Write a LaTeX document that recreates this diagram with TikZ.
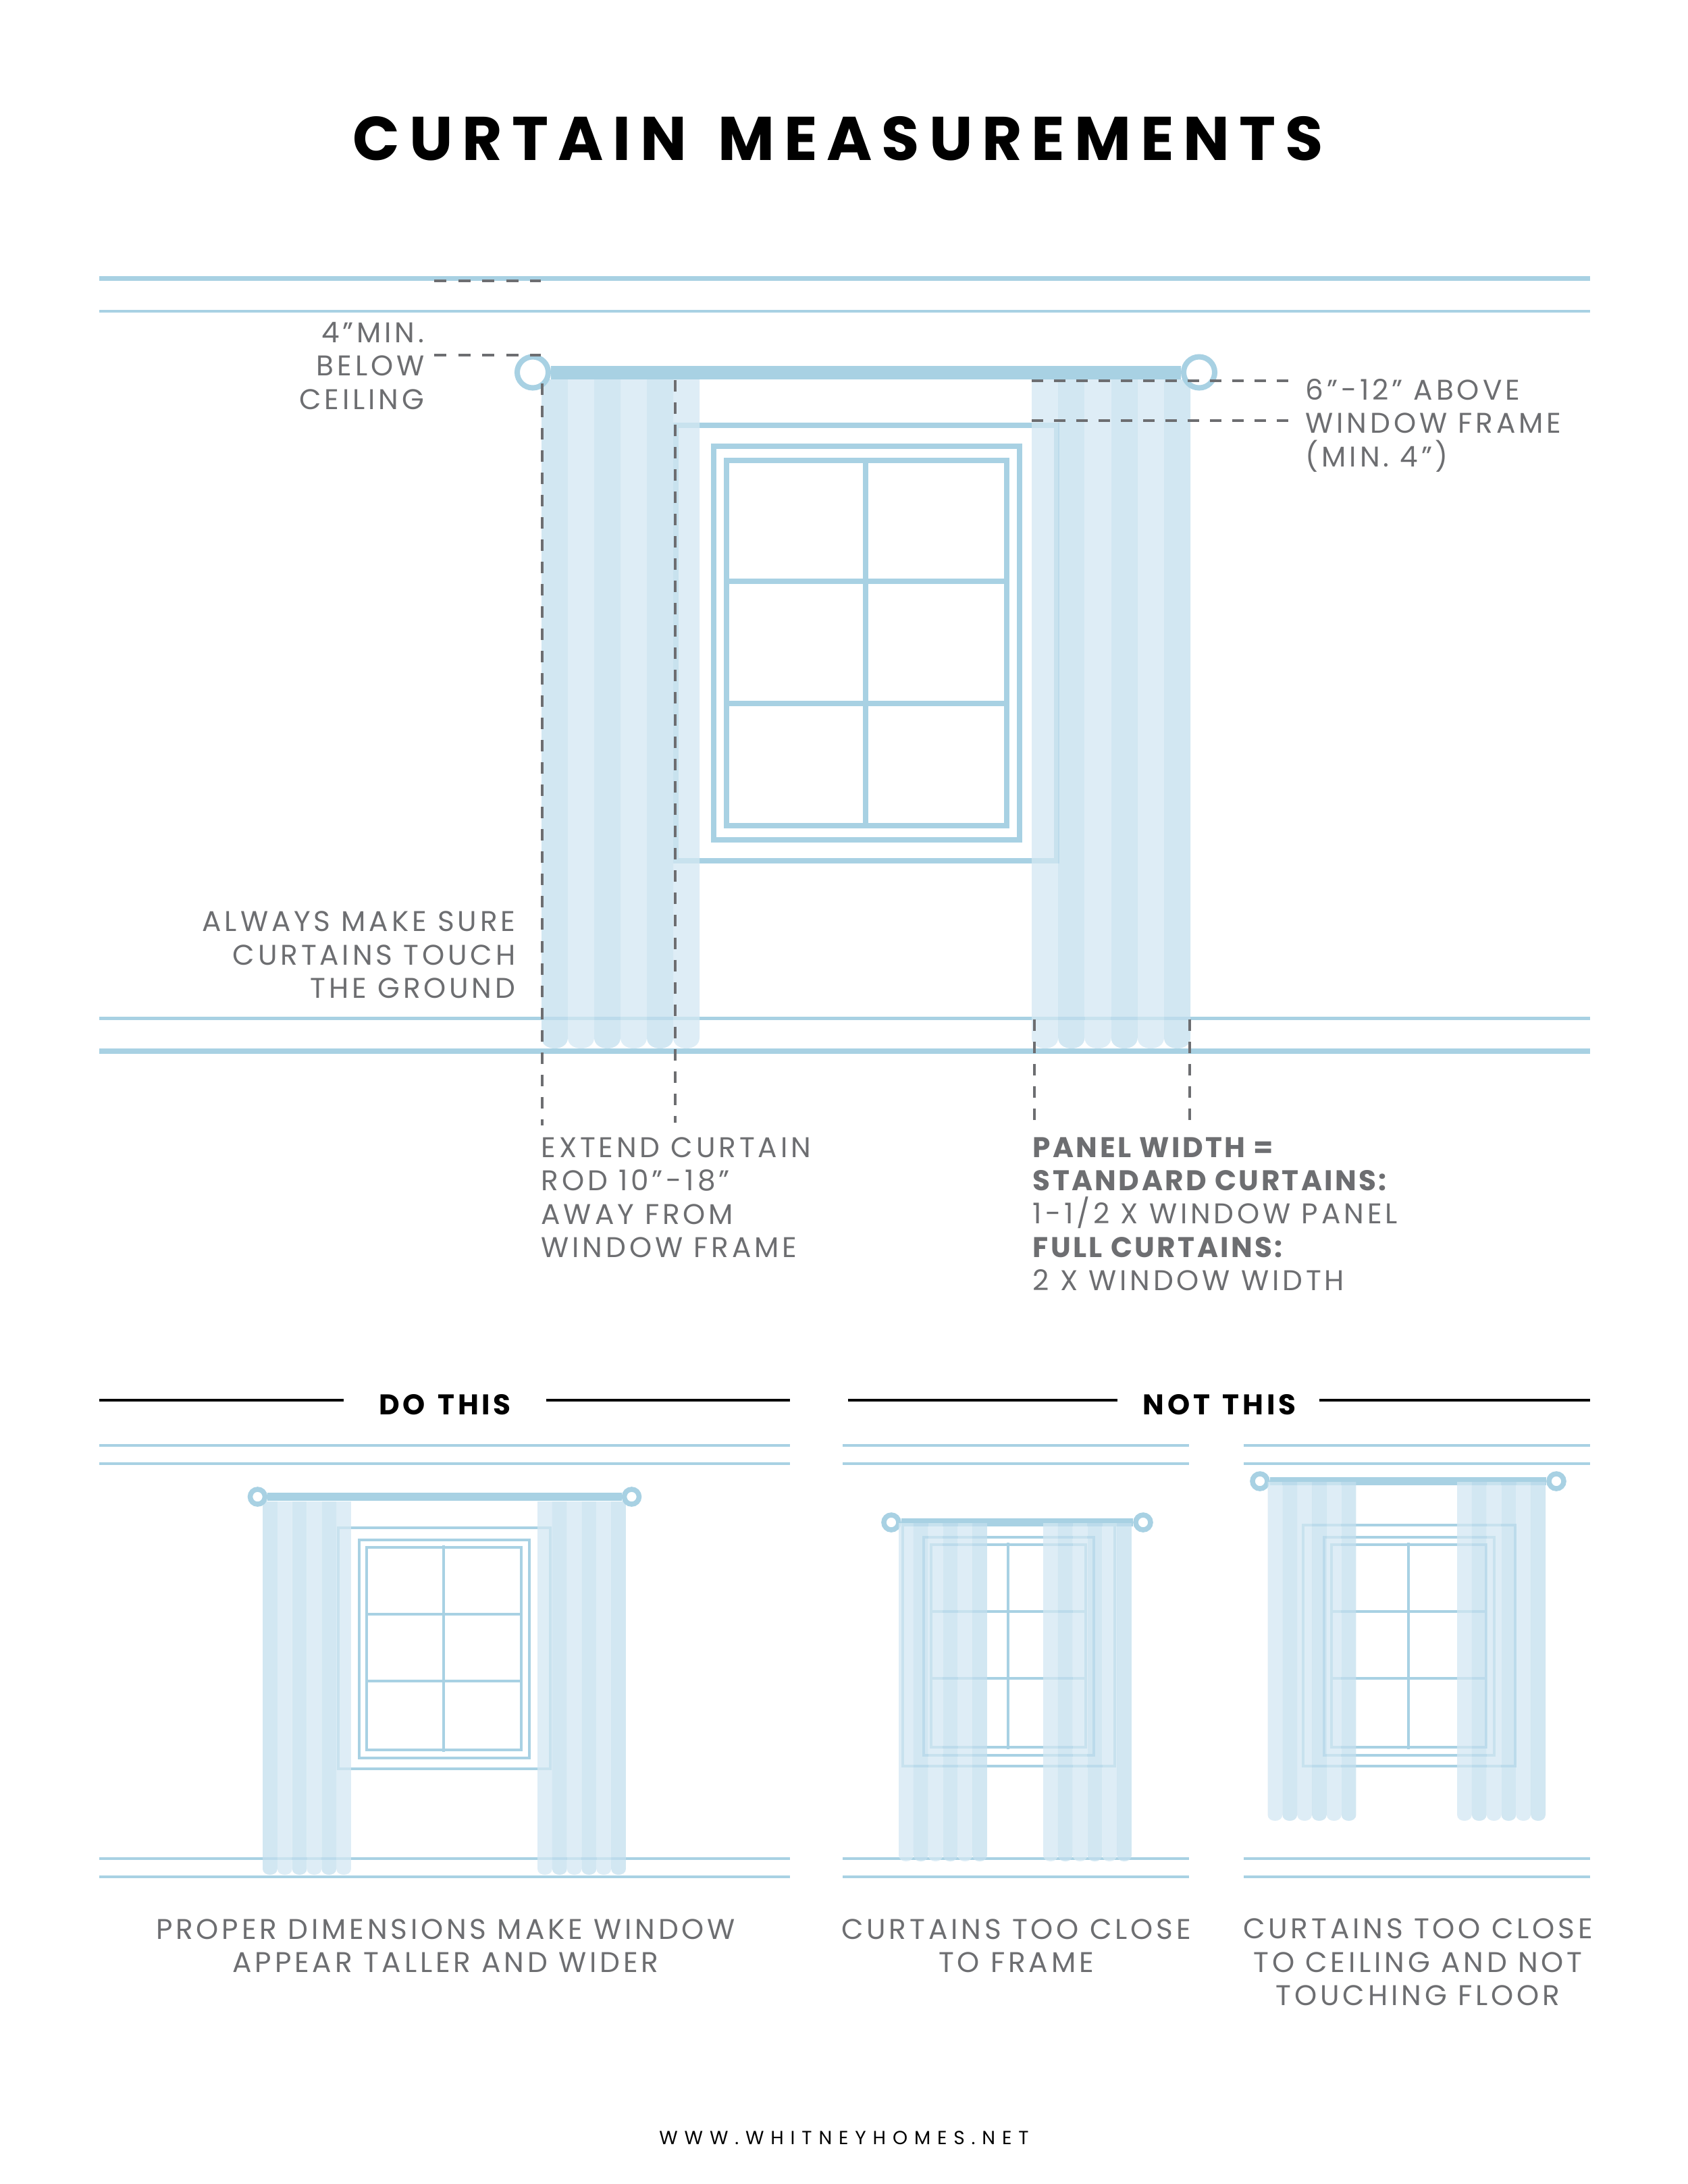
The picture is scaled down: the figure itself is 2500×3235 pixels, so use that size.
\documentclass[tikz,border=0pt]{standalone}
\usepackage{fontspec}
\setmainfont[LetterSpace=11.5,BoldFeatures={LetterSpace=8}]{Poppins}
\newfontfamily\headfont[LetterSpace=15.2,WordSpace=1.4]{Poppins}
\newfontfamily\capfont[LetterSpace=11,WordSpace=1.4]{Poppins}
\newfontfamily\webfont[LetterSpace=35]{Poppins}
\definecolor{rodblue}{HTML}{A8D1E3}
\definecolor{pleatdark}{HTML}{C3DFEE}
\definecolor{pleatlight}{HTML}{D4E8F3}
\definecolor{labelgrey}{HTML}{6D6E71}
\tikzset{
  wall/.style={draw=rodblue,line width=0.045cm},
  wallthin/.style={draw=rodblue,line width=0.035cm},
  frame/.style={draw=rodblue,line width=0.08cm},
  framesmall/.style={draw=rodblue,line width=0.042cm},
  dark/.style={fill=pleatdark,fill opacity=0.75},
  light/.style={fill=pleatlight,fill opacity=0.75},
  rod/.style={draw=rodblue,line width=0.2cm},
  rodsmall/.style={draw=rodblue,line width=0.12cm},
  ring/.style={circle,draw=rodblue,fill=white,line width=0.08cm,minimum size=0.46cm,inner sep=0},
  ringsmall/.style={circle,draw=rodblue,fill=white,line width=0.075cm,minimum size=0.22cm,inner sep=0},
  guide/.style={draw=labelgrey,line width=0.04cm,dash pattern=on 0.17cm off 0.16cm},
  guideshort/.style={draw=labelgrey,line width=0.04cm,dash pattern=on 0.18cm off 0.175cm},
  rule/.style={draw=black,line width=0.045cm},
  label/.style={text=labelgrey,inner sep=0,font=\fontsize{12}{13.94}\selectfont},
  head/.style={text=black,inner sep=0,font=\fontsize{12}{13.94}\capfont\bfseries}
}
% one pleat: x, width, top, bottom, rounding, style
\newcommand{\pleat}[6]{\fill[#6] (#1,#3) -- (#1,#4-#5) .. controls (#1,#4+#5/3) and (#1+#2,#4+#5/3) .. (#1+#2,#4-#5) -- (#1+#2,#3) -- cycle;}
% six pleats, two styles in turn
\newcommand{\curtain}[7]{%
  \foreach \i in {0,2,4}{\pleat{#1+\i*#2}{#2}{#3}{#4}{#5}{#6}}%
  \foreach \i in {1,3,5}{\pleat{#1+\i*#2}{#2}{#3}{#4}{#5}{#7}}}
\newcommand{\smallwindow}[2]{%
  \begin{scope}[shift={(#1,#2)}]
    \draw[framesmall] (501,2263) rectangle (815,2620);
    \draw[framesmall] (532,2281) rectangle (784,2604);
    \draw[framesmall] (543,2292) rectangle (772,2592);
    \draw[framesmall] (657,2289) -- (657,2595);
    \draw[framesmall] (543,2391) -- (772,2391);
    \draw[framesmall] (543,2490) -- (772,2490);
  \end{scope}}
\newcommand{\walls}[2]{%
  \draw[wall] (#1,2141) -- (#2,2141);
  \draw[wallthin] (#1,2168) -- (#2,2168);
  \draw[wallthin] (#1,2753) -- (#2,2753);
  \draw[wall] (#1,2780) -- (#2,2780);}

\begin{document}
\begin{tikzpicture}[x=0.01cm,y=-0.01cm]
    \fill[white] (0,0) rectangle (2500,3235);
    \useasboundingbox (0,0) rectangle (2500,3235);

    \node[head,font=\fontsize{26}{30}\headfont\bfseries] (title) at (1241,237) [anchor=base] {CURTAIN MEASUREMENTS};

    % big window
    \draw[rodblue,line width=0.07cm] (147,412.5) -- (2355,412.5);
    \draw[wall] (147,461) -- (2355,461);
    \draw[rodblue,line width=0.05cm] (147,1508.5) -- (2355,1508.5);
    \draw[rodblue,line width=0.08cm] (147,1557) -- (2355,1557);
    \draw[frame] (1001,630) rectangle (1565,1274.5);
    \draw[frame] (1056.5,660.5) rectangle (1509.5,1244);
    \draw[frame] (1075.5,681.5) rectangle (1491,1223);
    \draw[frame] (1281.5,681.5) -- (1281.5,1223);
    \draw[frame] (1075.5,861) -- (1491,861);
    \draw[frame] (1075.5,1042) -- (1491,1042);
    \curtain{802}{39}{562}{1553}{16}{dark}{light}
    \curtain{1528}{39.2}{562}{1553}{16}{light}{dark}
    \node[ring] (ringa) at (789,551.5) {};
    \node[ring] (ringb) at (1776,551.5) {};
    \draw[rod] (ringa) -- (ringb);

    \coordinate (ceila) at (643,416);
    \coordinate (ceilb) at (801,416);
    \coordinate (belowa) at (643,526);
    \coordinate (belowb) at (801,526);
    \coordinate (rodtop) at (1528,564);
    \coordinate (rodend) at (1915,564);
    \coordinate (frametop) at (1528,623);
    \coordinate (frameend) at (1915,623);
    \coordinate (edgea) at (803,568);
    \coordinate (edgeb) at (803,1667);
    \coordinate (casea) at (1000,563);
    \coordinate (caseb) at (1000,1663);
    \coordinate (panela) at (1531.5,1510);
    \coordinate (panelb) at (1531.5,1667);
    \coordinate (panelc) at (1762,1510);
    \coordinate (paneld) at (1762,1667);
    \draw[guideshort] (ceila) -- (ceilb);
    \draw[guideshort] (belowa) -- (belowb);
    \draw[guide] (rodtop) -- (rodend);
    \draw[guide] (frametop) -- (frameend);
    \draw[guide] (edgea) -- (edgeb);
    \draw[guide] (casea) -- (caseb);
    \draw[guide] (panela) -- (panelb);
    \draw[guide] (panelc) -- (paneld);

    \node[label,align=right,anchor=base east] (below) at (629,606) {4”MIN.\\BELOW\\CEILING};
    \node[label,align=left,anchor=base west] (above) at (1933,691) {6”-12” ABOVE\\WINDOW FRAME\\(MIN. 4”)};
    \node[label,align=right,anchor=base east] (ground) at (764,1478) {ALWAYS MAKE SURE\\CURTAINS TOUCH\\THE GROUND};
    \node[label,align=left,anchor=base west] (extend) at (801,1862) {EXTEND CURTAIN\\ROD 10”-18”\\AWAY FROM\\WINDOW FRAME};
    \node[label,align=left,anchor=base west] (panel) at (1529,1911) {\textbf{PANEL WIDTH =}\\\textbf{STANDARD CURTAINS:}\\1-1/2 X WINDOW PANEL\\\textbf{FULL CURTAINS:}\\2 X WINDOW WIDTH};

    % do this
    \node[head,anchor=base] (dothis) at (659,2095) {DO THIS};
    \coordinate (doa) at (147,2074);
    \coordinate (dob) at (509,2074);
    \coordinate (doc) at (809,2074);
    \coordinate (dod) at (1170,2074);
    \draw[rule] (doa) -- (dob);
    \draw[rule] (doc) -- (dod);
    \walls{147}{1170}
    \smallwindow{0}{0}
    \curtain{389}{21.83}{2224}{2777}{9}{dark}{light}
    \curtain{796}{21.83}{2224}{2777}{9}{light}{dark}
    \node[ringsmall] (ringc) at (381.5,2217) {};
    \node[ringsmall] (ringd) at (935.5,2217) {};
    \draw[rodsmall] (ringc) -- (ringd);
    \node[label,align=center,anchor=base] (proper) at (660,2921) {PROPER DIMENSIONS MAKE WINDOW\\APPEAR TALLER AND WIDER};

    % not this
    \node[head,anchor=base] (notthis) at (1806,2095) {NOT THIS};
    \coordinate (nota) at (1256,2074);
    \coordinate (notb) at (1655,2074);
    \coordinate (notc) at (1954,2074);
    \coordinate (notd) at (2355,2074);
    \draw[rule] (nota) -- (notb);
    \draw[rule] (notc) -- (notd);
    \walls{1248}{1761}
    \smallwindow{836}{-4}
    \node[ringsmall] (ringe) at (1320,2255) {};
    \node[ringsmall] (ringf) at (1693,2255) {};
    \draw[rodsmall] (ringe) -- (ringf);
    \curtain{1331}{21.83}{2256}{2757}{9}{light}{dark}
    \curtain{1545}{21.83}{2256}{2757}{9}{light}{dark}
    \node[label,align=center,anchor=base] (frameclose) at (1505,2921) {CURTAINS TOO CLOSE\\TO FRAME};

    \walls{1842}{2355}
    \smallwindow{1429}{-4}
    \node[ringsmall] (ringg) at (1866,2194) {};
    \node[ringsmall] (ringh) at (2305,2194) {};
    \draw[rodsmall] (ringg) -- (ringh);
    \curtain{1877.5}{21.83}{2195}{2697}{9}{light}{dark}
    \curtain{2158}{21.83}{2195}{2697}{9}{light}{dark}
    \node[label,align=center,anchor=base] (ceilclose) at (2100,2970) {CURTAINS TOO CLOSE\\TO CEILING AND NOT\\TOUCHING FLOOR};

    \node[label,text=black,font=\fontsize{8}{10}\webfont,anchor=base] (web) at (1250,3176) {WWW.WHITNEYHOMES.NET};
\end{tikzpicture}
\end{document}
